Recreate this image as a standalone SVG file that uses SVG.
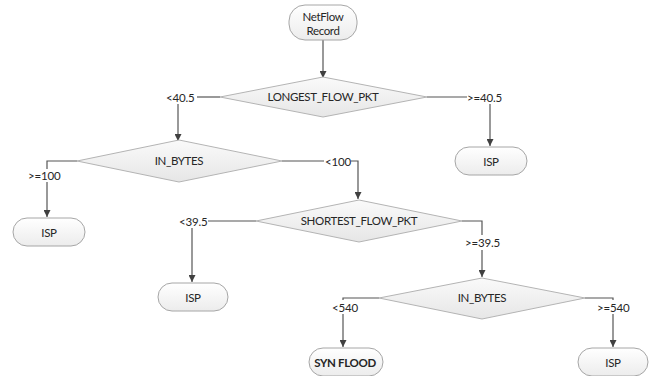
<svg xmlns="http://www.w3.org/2000/svg" width="662" height="376" viewBox="0 0 662 376">
<defs>
<linearGradient id="gn" x1="0" y1="0" x2="0" y2="1"><stop offset="0" stop-color="#ffffff"/><stop offset="1" stop-color="#ececec"/></linearGradient>
<linearGradient id="gd" x1="0" y1="0" x2="0" y2="1"><stop offset="0" stop-color="#fafafa"/><stop offset="1" stop-color="#e6e6e6"/></linearGradient>
<marker id="ah" viewBox="0 0 10 10" refX="10" refY="5" markerWidth="8" markerHeight="7" markerUnits="userSpaceOnUse" orient="auto"><path d="M0,0 L10,5 L0,10 z" fill="#404040"/></marker>
</defs>
<style>
.n{fill:url(#gn);stroke:#a6a6a6;stroke-width:1}
.d{fill:url(#gd);stroke:#b4b4b4;stroke-width:1}
.t{font-family:Lato,"Liberation Sans",sans-serif;font-size:11.5px;letter-spacing:-0.35px;fill:#262626;text-anchor:middle;dominant-baseline:central}
.b{font-weight:bold}
.c{fill:none;stroke:#555555;stroke-width:1.2}
.a{marker-end:url(#ah)}
.lb{font-family:Lato,"Liberation Sans",sans-serif;font-size:11.5px;letter-spacing:-0.2px;fill:#262626;dominant-baseline:central}
</style>
<rect width="662" height="376" fill="#ffffff"/>
<g id="connectors">
<path class="c a" d="M323,40 V78"/>
<path class="c" d="M220,97 H197"/>
<path class="c a" d="M178,104 V141"/>
<path class="c" d="M427,97 H467"/>
<path class="c a" d="M490,104 V146"/>
<path class="c" d="M77,161 H47 V169"/>
<path class="c a" d="M47,182 V217"/>
<path class="c" d="M282,161 H324"/>
<path class="c a" d="M351,161 H358 V199"/>
<path class="c" d="M256,221 H208"/>
<path class="c a" d="M192,228 V282"/>
<path class="c" d="M462,221 H482 V235"/>
<path class="c a" d="M482,250 V277"/>
<path class="c" d="M379,298 H343 V300"/>
<path class="c a" d="M343,314 V347"/>
<path class="c" d="M585,298 H613 V300"/>
<path class="c a" d="M613,314 V347"/>
<text class="lb" x="166" y="97">&lt;40.5</text>
<text class="lb" x="467" y="97">&gt;=40.5</text>
<text class="lb" x="28" y="175">&gt;=100</text>
<text class="lb" x="325" y="161">&lt;100</text>
<text class="lb" x="179" y="221">&lt;39.5</text>
<text class="lb" x="465" y="242">&gt;=39.5</text>
<text class="lb" x="332" y="307">&lt;540</text>
<text class="lb" x="597" y="307">&gt;=540</text>
</g>
<g id="netflow"><rect class="n" x="289" y="5" width="68" height="35" rx="16"/><text class="t" x="323" y="16">NetFlow</text><text class="t" x="323" y="30">Record</text></g>
<g id="d_longest"><polygon class="d" points="220,97 323,77 427,97 323,117"/><text class="t" x="323" y="96">LONGEST_FLOW_PKT</text></g>
<g id="isp1"><rect class="n" x="455" y="147" width="72" height="28" rx="14"/><text class="t" x="491" y="161">ISP</text></g>
<g id="d_inbytes1"><polygon class="d" points="77,161 179,140 282,161 179,182"/><text class="t" x="179" y="160">IN_BYTES</text></g>
<g id="isp2"><rect class="n" x="13" y="218" width="72" height="28" rx="14"/><text class="t" x="49" y="232">ISP</text></g>
<g id="d_shortest"><polygon class="d" points="256,221 359,200 462,221 359,242"/><text class="t" x="359" y="220">SHORTEST_FLOW_PKT</text></g>
<g id="isp3"><rect class="n" x="158" y="283" width="70" height="28" rx="14"/><text class="t" x="193" y="297">ISP</text></g>
<g id="d_inbytes2"><polygon class="d" points="379,298 482,278 585,298 482,319"/><text class="t" x="482" y="297">IN_BYTES</text></g>
<g id="synflood"><rect class="n" x="309" y="348" width="74" height="28" rx="14"/><text class="t b" x="345" y="362">SYN FLOOD</text></g>
<g id="isp4"><rect class="n" x="578" y="348" width="70" height="28" rx="14"/><text class="t" x="613" y="362">ISP</text></g>
</svg>
